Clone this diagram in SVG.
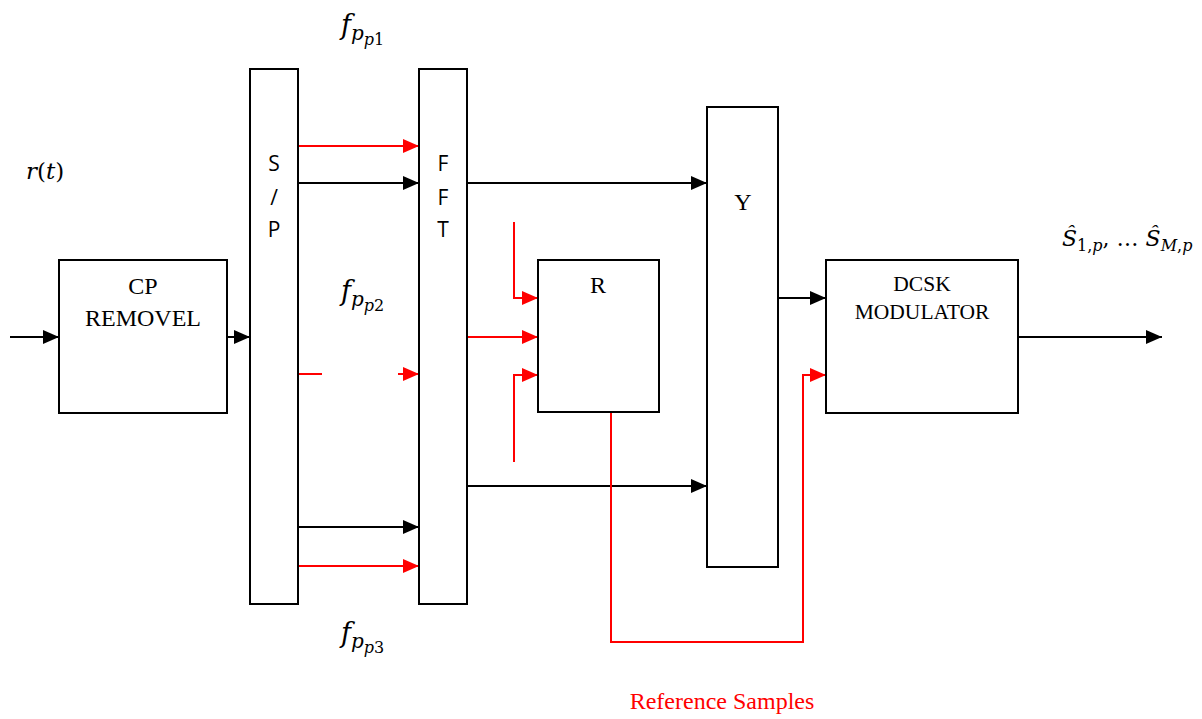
<svg xmlns="http://www.w3.org/2000/svg" width="1202" height="719" viewBox="0 0 1202 719">
<style>
.box{fill:#fff;stroke:#000;stroke-width:2}
.k{stroke:#000;stroke-width:2;fill:none}
.r{stroke:#f00;stroke-width:2;fill:none}
.ser{font-family:"Liberation Serif",serif;fill:#000;text-anchor:middle}
.sans{font-family:"Open Sans","Liberation Sans",sans-serif;font-size:21px;fill:#000;text-anchor:middle}
.m{font-family:"DejaVu Serif","Liberation Serif",serif;fill:#000}
.i{font-style:italic}
</style>
<defs>
<marker id="ak" markerUnits="userSpaceOnUse" markerWidth="16" markerHeight="14" refX="16" refY="7" orient="auto"><path d="M0,0 L16,7 L0,14 Z" fill="#000"/></marker>
<marker id="ar" markerUnits="userSpaceOnUse" markerWidth="16" markerHeight="14" refX="16" refY="7" orient="auto"><path d="M0,0 L16,7 L0,14 Z" fill="#f00"/></marker>
</defs>
<g id="connectors">
<path class="k" d="M10,337 H59" marker-end="url(#ak)"/>
<path class="k" d="M227,337 H250" marker-end="url(#ak)"/>
<path class="r" d="M298,146 H419" marker-end="url(#ar)"/>
<path class="k" d="M298,183 H419" marker-end="url(#ak)"/>
<path class="r" d="M298,374 H322"/>
<path class="r" d="M398,374 H419" marker-end="url(#ar)"/>
<path class="k" d="M298,527 H419" marker-end="url(#ak)"/>
<path class="r" d="M298,566 H419" marker-end="url(#ar)"/>
<path class="k" d="M467,183 H707" marker-end="url(#ak)"/>
<path class="k" d="M467,486 H707" marker-end="url(#ak)"/>
<path class="r" d="M514,222 V298 H538" marker-end="url(#ar)"/>
<path class="r" d="M467,337 H538" marker-end="url(#ar)"/>
<path class="r" d="M514,462 V375 H538" marker-end="url(#ar)"/>
<path class="r" d="M611,412 V642 H803 V375 H826" marker-end="url(#ar)"/>
<path class="k" d="M778,298 H826" marker-end="url(#ak)"/>
<path class="k" d="M1018,337 H1162" marker-end="url(#ak)"/>
</g>
<g id="cp">
<rect class="box" x="59" y="260" width="168" height="153"/>
<text class="ser" font-size="24" x="143" y="294">CP</text>
<text class="ser" font-size="24" x="143" y="326">REMOVEL</text>
</g>
<g id="sp">
<rect class="box" x="250" y="69" width="48" height="535"/>
<text class="sans" x="274" y="171">S</text>
<text class="sans" x="274" y="205">/</text>
<text class="sans" x="274" y="237">P</text>
</g>
<g id="fft">
<rect class="box" x="419" y="69" width="48" height="535"/>
<text class="sans" x="443" y="171">F</text>
<text class="sans" x="443" y="205">F</text>
<text class="sans" x="443" y="237">T</text>
</g>
<g id="r">
<rect class="box" x="538" y="260" width="121" height="152"/>
<text class="ser" font-size="24" x="598" y="293">R</text>
</g>
<g id="y">
<rect class="box" x="707" y="107" width="71" height="460"/>
<text class="ser" font-size="24" x="743" y="210">Y</text>
</g>
<g id="dcsk">
<rect class="box" x="826" y="260" width="192" height="153"/>
<text class="ser" font-size="21.5" x="922" y="291">DCSK</text>
<text class="ser" font-size="21.5" x="922" y="319">MODULATOR</text>
</g>
<g id="labels">
<text class="m" x="26" y="179" font-size="23"><tspan class="i">r</tspan>(<tspan class="i">t</tspan>)</text>
<text class="m" x="341" y="34" font-size="27"><tspan class="i">f</tspan><tspan class="i" font-size="20" dy="6">p</tspan><tspan font-size="16" dy="5"><tspan class="i">p</tspan>1</tspan></text>
<text class="m" x="341" y="300" font-size="27"><tspan class="i">f</tspan><tspan class="i" font-size="20" dy="6">p</tspan><tspan font-size="16" dy="5"><tspan class="i">p</tspan>2</tspan></text>
<text class="m" x="341" y="642" font-size="27"><tspan class="i">f</tspan><tspan class="i" font-size="20" dy="6">p</tspan><tspan font-size="16" dy="5"><tspan class="i">p</tspan>3</tspan></text>
<text class="m" x="1062" y="246" font-size="22"><tspan class="i">Ŝ</tspan><tspan font-size="16" dy="5">1,<tspan class="i">p</tspan></tspan><tspan dy="-5">, … </tspan><tspan class="i">Ŝ</tspan><tspan font-size="16" dy="5"><tspan class="i">M</tspan>,<tspan class="i">p</tspan></tspan></text>
<text x="722" y="709" font-family="Liberation Serif, serif" font-size="24" fill="#f00" text-anchor="middle">Reference Samples</text>
</g>
</svg>
